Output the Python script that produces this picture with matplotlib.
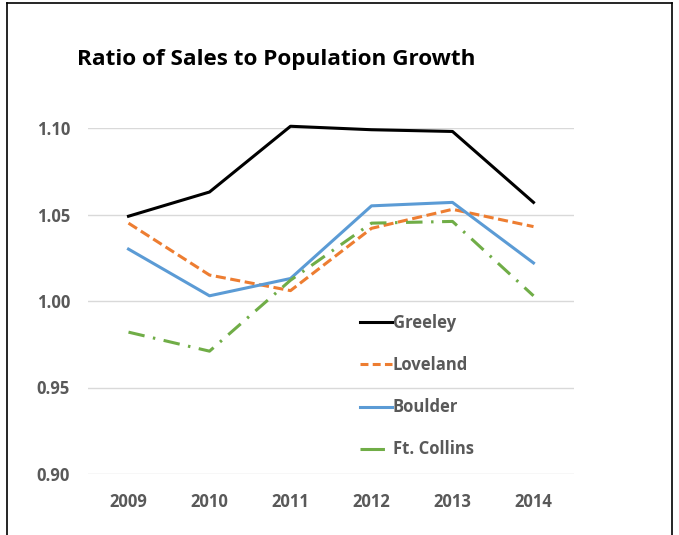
import matplotlib
matplotlib.use("Agg")
import matplotlib.pyplot as plt
from matplotlib.lines import Line2D

# ---------------------------------------------------------------
# Data
# ---------------------------------------------------------------
years = ["2009", "2010", "2011", "2012", "2013", "2014"]
greeley = [1.049, 1.063, 1.101, 1.099, 1.098, 1.057]
loveland = [1.045, 1.015, 1.006, 1.042, 1.053, 1.043]
boulder = [1.030, 1.003, 1.013, 1.055, 1.057, 1.022]
ft_collins = [0.982, 0.971, 1.012, 1.045, 1.046, 1.003]
y_ticks = [0.90, 0.95, 1.00, 1.05, 1.10]

TEXT_GRAY = "#595959"
GRID_GRAY = "#d9d9d9"
FONT = "Open Sans"
LABEL_SIZE = 12

W, H = 679, 535
fig = plt.figure(figsize=(W / 100, H / 100), dpi=100)
fig.patch.set_facecolor("white")

# plot area in pixel coordinates (left, top, right, bottom)
px_l, px_t, px_r, px_b = 88, 128, 574, 474
ax = fig.add_axes([px_l / W, 1 - px_b / H, (px_r - px_l) / W, (px_b - px_t) / H])

x = list(range(len(years)))
ax.plot(x, greeley, color="black", lw=2.2, clip_on=False,
        solid_joinstyle="round", zorder=4)
ax.plot(x, loveland, color="#ED7D31", lw=2.2, clip_on=False,
        dashes=(3.3, 1.5), zorder=3)
ax.plot(x, boulder, color="#5B9BD5", lw=2.2, clip_on=False, zorder=3)
ax.plot(x, ft_collins, color="#70AD47", lw=2.2, clip_on=False,
        dashes=(5.4, 2.8, 0.8, 2.8), zorder=3)

ax.set_xlim(-0.5, len(years) - 0.5)
ax.set_ylim(0.90, 1.10)
ax.set_yticks(y_ticks)
ax.set_yticklabels([f"{v:.2f}" for v in y_ticks])
ax.set_xticks(x)
ax.set_xticklabels(years)
ax.tick_params(length=0, colors=TEXT_GRAY, labelsize=LABEL_SIZE)
ax.tick_params(axis="y", pad=13)
ax.tick_params(axis="x", pad=13.5)
for lab in ax.get_xticklabels() + ax.get_yticklabels():
    lab.set_fontfamily(FONT)
    lab.set_fontweight("bold")
for s in ax.spines.values():
    s.set_visible(False)
ax.grid(axis="y", color=GRID_GRAY, lw=1.0)
ax.set_axisbelow(True)

# legend handles: the dash-dot series shows as a short solid stroke
handles = [
    Line2D([], [], color="black", lw=2.2),
    Line2D([], [], color="#ED7D31", lw=2.2, dashes=(2.6, 1.4)),
    Line2D([], [], color="#5B9BD5", lw=2.2),
    Line2D([], [], color="#70AD47", lw=2.2, dashes=(8.0, 10)),
]
labels = ["Greeley", "Loveland", "Boulder", "Ft. Collins"]
leg = ax.legend(handles, labels, loc="upper left",
                bbox_to_anchor=(360 / W, 1 - 314 / H),
                bbox_transform=fig.transFigure, frameon=False,
                borderpad=0, borderaxespad=0, handlelength=1.9,
                handletextpad=0.08, labelspacing=1.45,
                prop={"family": FONT, "weight": "bold", "size": LABEL_SIZE})
for t in leg.get_texts():
    t.set_color(TEXT_GRAY)

fig.text(77 / W, 1 - 59 / H, "Ratio of Sales to Population Growth",
         fontsize=16.2, fontweight="bold", family=FONT, color="black",
         ha="left", va="center")

# frame around the chart
frame_kw = dict(color="black", lw=1.2, transform=fig.transFigure)
fig.add_artist(Line2D([7 / W, 7 / W], [0, 1 - 3 / H], **frame_kw))
fig.add_artist(Line2D([7 / W, 672 / W], [1 - 3 / H, 1 - 3 / H], **frame_kw))
fig.add_artist(Line2D([672 / W, 672 / W], [0, 1 - 3 / H], **frame_kw))

fig.savefig("out.png", dpi=100)
